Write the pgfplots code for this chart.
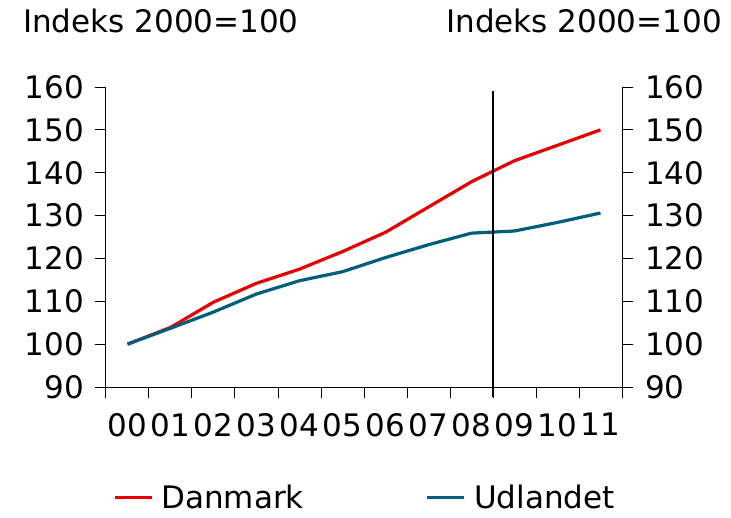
\documentclass[border=0pt]{standalone}
\usepackage{pgfplots}
\pgfplotsset{compat=1.18}
\usepackage{fontspec}
\setmainfont{DejaVu Sans}
\definecolor{dkred}{RGB}{230,0,0}
\definecolor{dkblue}{RGB}{0,94,122}
\pgfplotstableread{
x dk ud
0.5 100.0 100.0
1.5 103.9 103.7
2.5 109.8 107.5
3.5 114.2 111.7
4.5 117.5 114.8
5.5 121.6 116.9
6.5 126.1 120.2
7.5 132.0 123.2
8.5 137.9 125.9
9.5 142.8 126.4
10.5 146.4 128.4
11.5 150.0 130.6
}\datatable
\begin{document}
\begin{tikzpicture}[font=\fontsize{31}{37}\selectfont]
\path[use as bounding box] (-106pt,-130pt) rectangle (625pt,387pt);
\node[anchor=base west, inner sep=0pt] at (-83pt,354pt) {Indeks 2000=100};
\node[anchor=base east, inner sep=0pt] at (616pt,354pt) {Indeks 2000=100};
\begin{axis}[
  at={(0pt,0pt)}, anchor=south west,
  scale only axis, width=516pt, height=300pt,
  xmin=0, xmax=12, ymin=90, ymax=160,
  axis x line*=bottom, axis y line*=left,
  axis line style={-, black, line width=1pt},
  xtick={0,...,12},
  xticklabels={00,01,02,03,04,05,06,07,08,09,10,11},
  x tick label as interval,
  ytick={90,100,...,160},
  tick align=outside, major tick length=10.5pt,
  tick style={black, line width=1pt},
  /pgf/number format/assume math mode=true,
  yticklabel style={xshift=-8pt},
  xticklabel style={yshift=-12pt},
  clip=false,
  legend columns=2,
  legend image code/.code={\draw[#1] (0pt,0pt) -- (37pt,0pt);},
  legend style={draw=none, fill=none, inner sep=0pt,
    at={(0.0136,-0.367)}, anchor=west,
    nodes={inner sep=0pt},
    /tikz/every odd column/.append style={column sep=8pt},
    /tikz/every even column/.append style={column sep=122pt}},
]
\addplot[dkred, line width=3.2pt, line join=round] table[x=x,y=dk] {\datatable};
\addlegendentry{Danmark}
\addplot[dkblue, line width=3.2pt, line join=round] table[x=x,y=ud] {\datatable};
\addlegendentry{Udlandet}
\addplot[black, line width=1.3pt, forget plot] coordinates {(9,87.6) (9,159)};
\end{axis}
\begin{axis}[
  at={(0pt,0pt)}, anchor=south west,
  scale only axis, width=516pt, height=300pt,
  xmin=0, xmax=12, ymin=90, ymax=160,
  axis x line=none, axis y line*=right,
  axis line style={-, black, line width=1pt},
  ytick={90,100,...,160},
  tick align=outside, major tick length=10.5pt,
  tick style={black, line width=1pt},
  /pgf/number format/assume math mode=true,
  yticklabel style={xshift=9pt},
]
\end{axis}
\end{tikzpicture}
\end{document}
